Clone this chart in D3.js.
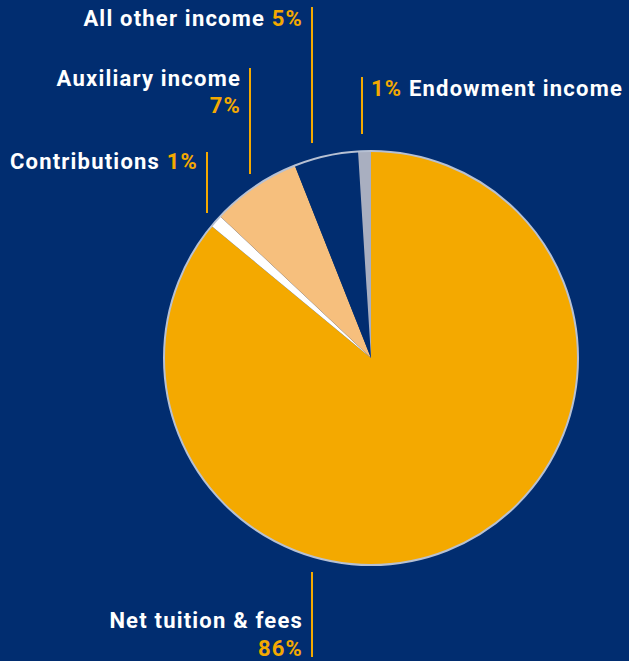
<!DOCTYPE html>
<html>
<head>
<meta charset="utf-8">
<script src="https://cdn.jsdelivr.net/npm/d3@7"></script>
<style>
  body { margin: 0; background: #012d70; }
  svg text { font-family: Roboto, "DejaVu Sans", sans-serif; font-weight: 700; letter-spacing: 1.2px; }
</style>
</head>
<body>
<div id="myChart"></div>
<script>
// data, clockwise from 12 o'clock
let categories = ["Net tuition & fees", "Contributions", "Auxiliary income", "All other income", "Endowment income"];
let shares = [86, 1, 7, 5, 1];
let sliceColors = ["#f4a900", "#ffffff", "#f6bf7d", "#012d70", "#a9afc0"];

// label layout (x of the leader line, line top/bottom, text side, text baselines)
let labelLayout = [
  {lineX: 312, y1: 572, y2: 657, side: "left",  rows: [[628, "name"], [656, "pct"]]},
  {lineX: 207, y1: 152, y2: 213, side: "left",  rows: [[169, "both"]]},
  {lineX: 250, y1: 68,  y2: 174, side: "left",  rows: [[86, "name"], [113, "pct"]]},
  {lineX: 312, y1: 7,   y2: 143, side: "left",  rows: [[26, "both"]]},
  {lineX: 362, y1: 77,  y2: 134, side: "right", rows: [[96, "pctFirst"]]}
];

let width = 629, height = 661;
let cx = 371, cy = 358, radius = 207;

let svg = d3.select("#myChart")
  .append("svg")
    .attr("width", width)
    .attr("height", height);

svg.append("rect")
  .attr("width", width)
  .attr("height", height)
  .attr("fill", "#012d70");

let data = categories.map(function(c, i) { return {name: c, value: shares[i], color: sliceColors[i]}; });

let pie = d3.pie()
  .sort(null)
  .value(function(d) { return d.value; });

let arc = d3.arc()
  .innerRadius(0)
  .outerRadius(radius);

let g = svg.append("g")
  .attr("transform", "translate(" + cx + "," + cy + ")");

g.selectAll("path")
  .data(pie(data))
  .enter()
  .append("path")
    .attr("d", arc)
    .attr("fill", function(d) { return d.data.color; });

// light rim round the pie
g.append("circle")
  .attr("r", radius)
  .attr("fill", "none")
  .attr("stroke", "#b7c1d3")
  .attr("stroke-width", 2);

// labels with leader lines
let orange = "#f4a900";
data.forEach(function(d, i) {
  let L = labelLayout[i];
  svg.append("line")
    .attr("x1", L.lineX).attr("x2", L.lineX)
    .attr("y1", L.y1).attr("y2", L.y2)
    .attr("stroke", orange)
    .attr("stroke-width", 2);

  let pct = d.value + "%";
  L.rows.forEach(function(r) {
    let t = svg.append("text")
      .attr("y", r[0])
      .attr("font-size", 22);
    if (L.side === "left") {
      t.attr("x", L.lineX - 9).attr("text-anchor", "end");
    } else {
      t.attr("x", L.lineX + 9).attr("text-anchor", "start");
    }
    if (r[1] === "name") {
      t.append("tspan").attr("fill", "#fff").text(d.name);
    } else if (r[1] === "pct") {
      t.append("tspan").attr("fill", orange).text(pct);
    } else if (r[1] === "both") {
      t.append("tspan").attr("fill", "#fff").text(d.name + " ");
      t.append("tspan").attr("fill", orange).text(pct);
    } else {
      t.append("tspan").attr("fill", orange).text(pct + " ");
      t.append("tspan").attr("fill", "#fff").text(d.name);
    }
  });
});
</script>
</body>
</html>
